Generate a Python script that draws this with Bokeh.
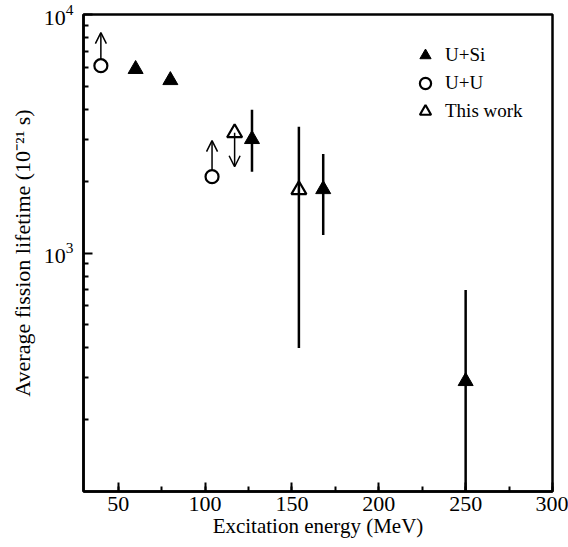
from bokeh.plotting import figure
from bokeh.models import (ColumnDataSource, Arrow, OpenHead, Legend, LegendItem,
                          FixedTicker, SingleIntervalTicker, Range1d)
from bokeh.embed import file_html
from bokeh.resources import INLINE

# ---- data ----
usi_x = [60, 80, 127, 168, 250]
usi_y = [5900, 5300, 3000, 1850, 290]

usi_err_x = [127, 168, 250]
usi_err_lo = [2190, 1190, 90]
usi_err_hi = [3990, 2600, 700]

uu_x = [40, 104]
uu_y = [6100, 2090]
uu_limit_top = [8400, 2960]          # lower limits (arrows up)

this_x = [117, 154]
this_y = [3190, 1840]

this_err_x = [154]
this_err_lo = [400]
this_err_hi = [3380]

this_limit_x = [117]
this_limit_y = [3190]
this_limit_bottom = [2300]           # upper limit (arrow down)

x_major = [50, 100, 150, 200, 250, 300]
y_major = [1000, 10000]
y_minor = [200, 300, 400, 500, 600, 700, 800, 900,
           2000, 3000, 4000, 5000, 6000, 7000, 8000, 9000]

FONT = "Liberation Serif"

p = figure(width=568, height=547, y_axis_type="log",
           x_range=Range1d(30, 300), y_range=Range1d(100, 10000),
           output_backend="svg", toolbar_location=None,
           min_border_left=83, min_border_right=16,
           min_border_top=14, min_border_bottom=56)

p.grid.visible = False
p.background_fill_color = "white"
p.border_fill_color = "white"
p.outline_line_color = "black"
p.outline_line_width = 2.5
p.outline_line_alpha = 1

# axes
p.xaxis.ticker = SingleIntervalTicker(interval=50, num_minor_ticks=2)
p.yaxis.ticker = FixedTicker(ticks=y_major, minor_ticks=y_minor)
for ax in (p.xaxis, p.yaxis):
    ax.axis_line_width = 2.5
    ax.axis_line_color = "black"
    ax.major_tick_in = 9
    ax.major_tick_out = 0
    ax.minor_tick_in = 5
    ax.minor_tick_out = 0
    ax.major_tick_line_width = 2
    ax.minor_tick_line_width = 2
    ax.major_label_text_font = FONT
    ax.major_label_text_font_size = "22px"
    ax.major_label_text_color = "black"
    ax.axis_label_text_font = FONT
    ax.axis_label_text_font_size = "21px"
    ax.axis_label_text_font_style = "normal"
    ax.axis_label_text_color = "black"

p.xaxis.axis_label = "Excitation energy (MeV)"
p.xaxis.major_label_standoff = 5
p.xaxis.axis_label_standoff = 0
p.yaxis.axis_label = "Average fission lifetime (10\u207b\u00b2\u00b9 s)"
p.yaxis.axis_label_text_font_size = "22px"
p.yaxis.major_label_standoff = 10
p.yaxis.axis_label_standoff = 6

# error bars
src_usi_err = ColumnDataSource(dict(x=usi_err_x, lo=usi_err_lo, hi=usi_err_hi))
p.segment(x0="x", y0="lo", x1="x", y1="hi", source=src_usi_err,
          line_color="black", line_width=2.5)
src_this_err = ColumnDataSource(dict(x=this_err_x, lo=this_err_lo, hi=this_err_hi))
p.segment(x0="x", y0="lo", x1="x", y1="hi", source=src_this_err,
          line_color="black", line_width=2.5)

# limit arrows
src_uu_arrow = ColumnDataSource(dict(x=uu_x, y0=uu_y, y1=uu_limit_top))
p.add_layout(Arrow(end=OpenHead(size=11, line_width=1.5, line_color="black"),
                   x_start="x", y_start="y0", x_end="x", y_end="y1",
                   source=src_uu_arrow, line_width=1.5, line_color="black",
                   level="underlay"))
src_this_arrow = ColumnDataSource(dict(x=this_limit_x, y0=this_limit_y,
                                       y1=this_limit_bottom))
p.add_layout(Arrow(end=OpenHead(size=11, line_width=1.5, line_color="black"),
                   x_start="x", y_start="y0", x_end="x", y_end="y1",
                   source=src_this_arrow, line_width=1.5, line_color="black",
                   level="underlay"))

# markers
r_usi = p.scatter(usi_x, usi_y, marker="triangle", size=15,
                  fill_color="black", line_color="black", line_width=1)
r_uu = p.scatter(uu_x, uu_y, marker="circle", size=13,
                 fill_color="white", line_color="black", line_width=2.2)
r_this = p.scatter(this_x, this_y, marker="triangle", size=15,
                   fill_color=None, line_color="black", line_width=2.2)

legend = Legend(items=[LegendItem(label="U+Si", renderers=[r_usi]),
                       LegendItem(label="U+U", renderers=[r_uu]),
                       LegendItem(label="This work", renderers=[r_this])],
                location=(328, 366), orientation="vertical",
                border_line_color=None, background_fill_alpha=0,
                label_text_font=FONT, label_text_font_size="19px",
                label_text_color="black", padding=0, margin=0, spacing=0,
                glyph_width=28, glyph_height=28, label_standoff=6)
p.add_layout(legend)

open("out.html", "w").write(file_html(p, INLINE))
